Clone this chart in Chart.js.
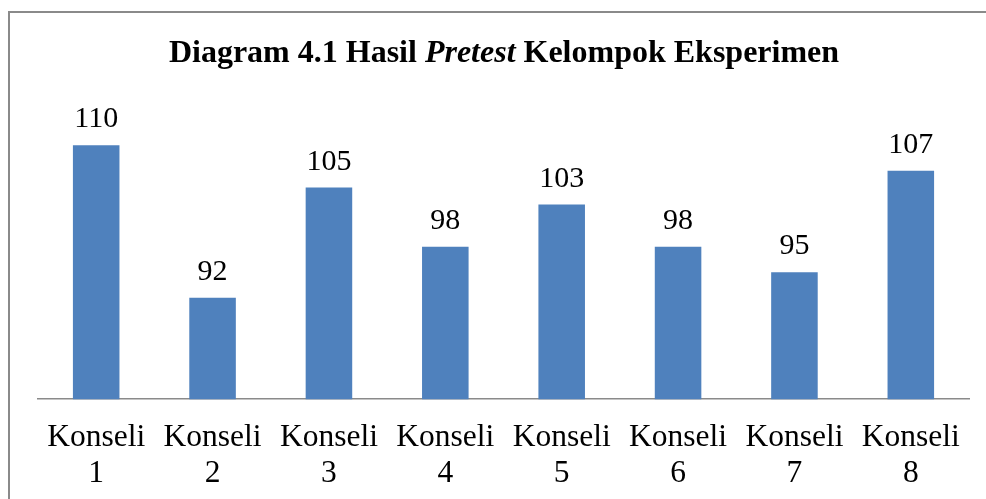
<!DOCTYPE html>
<html>
<head>
<meta charset="utf-8">
<script src="https://cdn.jsdelivr.net/npm/chart.js@4"></script>
<style>
  body { margin: 0; background: #fff; overflow: hidden; }
  canvas { display: block; }
</style>
</head>
<body>
<canvas id="grafik" width="986" height="521"></canvas>
<script>
const kategori = [['Konseli', '1'], ['Konseli', '2'], ['Konseli', '3'], ['Konseli', '4'],
                  ['Konseli', '5'], ['Konseli', '6'], ['Konseli', '7'], ['Konseli', '8']];
const nilaiPretest = [110, 92, 105, 98, 103, 98, 95, 107];
const judul = [
    { teks: 'Diagram 4.1 Hasil ', gaya: 'bold' },
    { teks: 'Pretest', gaya: 'italic bold' },
    { teks: ' Kelompok Eksperimen', gaya: 'bold' }
];

const serif = '"Liberation Serif", "Times New Roman", serif';

// bingkai abu-abu di sekeliling gambar
const bingkai = {
    id: 'bingkai',
    beforeDraw(chart) {
        const ctx = chart.ctx;
        ctx.save();
        ctx.strokeStyle = '#8a8a8a';
        ctx.lineWidth = 2;
        ctx.strokeRect(9, 12, chart.width + 10, chart.height + 10);
        ctx.restore();
    }
};

// judul dengan kata "Pretest" miring
const judulCampur = {
    id: 'judulCampur',
    afterDraw(chart) {
        const ctx = chart.ctx;
        ctx.save();
        ctx.fillStyle = '#000';
        ctx.textBaseline = 'alphabetic';
        let total = 0;
        judul.forEach(s => {
            ctx.font = s.gaya + ' 32px ' + serif;
            total += ctx.measureText(s.teks).width;
        });
        let x = 504 - total / 2;
        judul.forEach(s => {
            ctx.font = s.gaya + ' 32px ' + serif;
            ctx.fillText(s.teks, x, 62);
            x += ctx.measureText(s.teks).width;
        });
        ctx.restore();
    }
};

// angka di atas batang
const labelNilai = {
    id: 'labelNilai',
    afterDatasetsDraw(chart) {
        const ctx = chart.ctx;
        const meta = chart.getDatasetMeta(0);
        ctx.save();
        ctx.font = '30px ' + serif;
        ctx.fillStyle = '#000';
        ctx.textAlign = 'center';
        ctx.textBaseline = 'alphabetic';
        meta.data.forEach((bar, i) => {
            ctx.fillText(String(nilaiPretest[i]), bar.x, bar.y - 18);
        });
        ctx.restore();
    }
};

new Chart(document.getElementById('grafik'), {
    type: 'bar',
    data: {
        labels: kategori,
        datasets: [{
            data: nilaiPretest,
            backgroundColor: '#4f81bd',
            categoryPercentage: 1,
            barPercentage: 0.4
        }]
    },
    options: {
        responsive: false,
        animation: false,
        layout: {
            padding: { top: 103, left: 38, right: 17, bottom: 8 }
        },
        scales: {
            x: {
                grid: { display: false, drawTicks: false },
                border: { display: true, color: '#8a8a8a', width: 1.5 },
                ticks: {
                    color: '#000',
                    padding: 21,
                    maxRotation: 0,
                    autoSkip: false,
                    font: { family: serif, size: 31.5, lineHeight: 1.14 }
                }
            },
            y: {
                display: false,
                min: 80,
                max: 115
            }
        },
        plugins: {
            legend: { display: false },
            tooltip: { enabled: false }
        }
    },
    plugins: [bingkai, judulCampur, labelNilai]
});
</script>
</body>
</html>
